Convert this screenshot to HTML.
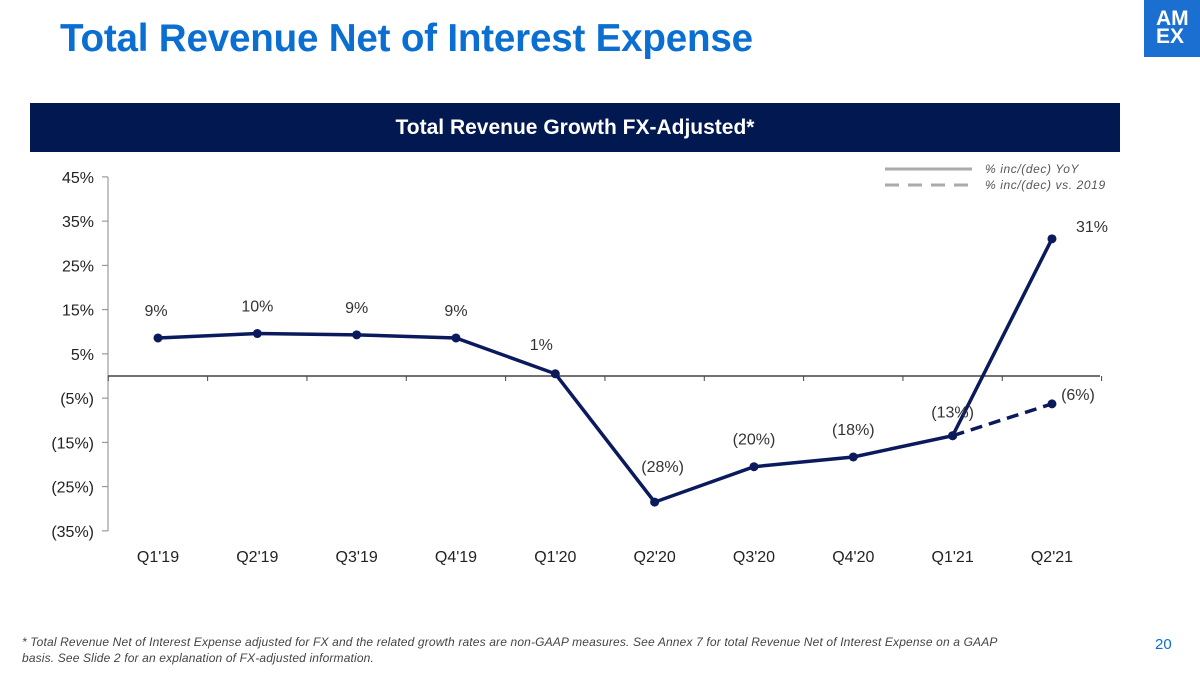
<!DOCTYPE html>
<html><head><meta charset="utf-8"><style>
body{margin:0;width:1200px;height:675px;overflow:hidden;background:#fff;font-family:"Liberation Sans",Arial,sans-serif;position:relative}
.t{position:absolute;left:60px;top:17px;font-size:38.6px;font-weight:bold;color:#0a6fd1;letter-spacing:-0.2px}
.ban{position:absolute;left:30px;top:103px;width:1090px;height:49px;background:#011850;color:#fff;font-size:21px;font-weight:bold;text-align:center;line-height:49px}
.logo{position:absolute;left:1144px;top:0;width:56px;height:57px;background:#1a6fd0;color:#fff;font-weight:900;font-size:21px;line-height:18px;padding:10px 0 0 12px;box-sizing:border-box}
.foot{position:absolute;left:22px;top:634px;width:1070px;font-size:12px;font-style:italic;color:#444;line-height:16px;letter-spacing:0.15px}
.pg{position:absolute;left:1155px;top:636px;color:#0a6fd1;font-size:15px}
</style></head><body>
<div class="t">Total Revenue Net of Interest Expense</div>
<div class="logo">AM<br>EX</div>
<div class="ban">Total Revenue Growth FX-Adjusted*</div>
<svg id="c" width="1200" height="675" style="position:absolute;left:0;top:0"></svg>
<div class="foot">* Total Revenue Net of Interest Expense adjusted for FX and the related growth rates are non-GAAP measures. See Annex 7 for total Revenue Net of Interest Expense on a GAAP<br>basis. See Slide 2 for an explanation of FX-adjusted information.</div>
<div class="pg">20</div>
<script>
const categories=["Q1'19","Q2'19","Q3'19","Q4'19","Q1'20","Q2'20","Q3'20","Q4'20","Q1'21","Q2'21"];
const yoy=[8.6,9.6,9.3,8.6,0.5,-28.5,-20.5,-18.3,-13.5,31];
const yoyLabels=["9%","10%","9%","9%","1%","(28%)","(20%)","(18%)","(13%)","31%"];
const vs2019Cats=["Q1'21","Q2'21"];
const vs2019=[-13.5,-6.3];
const vs2019Labels=["","(6%)"];
const yTicks=[45,35,25,15,5,-5,-15,-25,-35];
const NS="http://www.w3.org/2000/svg";
const svg=document.getElementById('c');
const y=v=>376-v*4.425;
const x=i=>158+i*99.33;
function mk(t,a,txt){const e=document.createElementNS(NS,t);for(const k in a)e.setAttribute(k,a[k]);if(txt!=null)e.textContent=txt;svg.appendChild(e);return e;}
let e=mk('line',{x1:108,x2:108,y1:177,y2:531,stroke:'#888'});

yTicks.forEach(v=>{mk('line',{x1:102,x2:108,y1:y(v),y2:y(v),stroke:'#888'});
const l=mk('text',{x:94,y:y(v)+6,'text-anchor':'end','font-size':16,fill:'#222'},v<0?'('+(-v)+'%)':v+'%');
});
e=mk('line',{x1:108,x2:1100,y1:y(0),y2:y(0),stroke:'#444','stroke-width':1.5});

for(let i=0;i<=categories.length;i++)mk('line',{x1:x(i)-49.7,x2:x(i)-49.7,y1:y(0),y2:y(0)+5,stroke:'#444'});
categories.forEach((c,i)=>{const l=mk('text',{x:x(i),y:562,'text-anchor':'middle','font-size':16,fill:'#222'},c);
});
const dp=vs2019Cats.map((c,j)=>x(categories.indexOf(c))+','+y(vs2019[j])).join(' ');
e=mk('polyline',{points:dp,fill:'none',stroke:'#0b1a5c','stroke-width':3.5,'stroke-dasharray':'12,7'});

e=mk('polyline',{points:yoy.map((v,i)=>x(i)+','+y(v)).join(' '),fill:'none',stroke:'#0b1a5c','stroke-width':3.5});

yoy.forEach((v,i)=>{const p=mk('circle',{cx:x(i),cy:y(v),r:4.5,fill:'#0b1a5c'});

let lx=x(i),ly=y(v)-22;
if(i==0)lx-=2;if(i==9){lx+=40;ly=y(v)-7;}if(i==8)ly=y(v)-18;if(i==4){lx-=14;ly=y(v)-24;}if(i==5){lx+=8;ly=y(v)-30;}
const l=mk('text',{x:lx,y:ly,'text-anchor':'middle','font-size':16,fill:'#333'},yoyLabels[i]);
});
vs2019.forEach((v,j)=>{const i=categories.indexOf(vs2019Cats[j]);
const p=mk('circle',{cx:x(i),cy:y(v),r:4.5,fill:'#0b1a5c'});

if(vs2019Labels[j]){const l=mk('text',{x:x(i)+26,y:y(v)-4,'text-anchor':'middle','font-size':16,fill:'#333'},vs2019Labels[j]);
}});
e=mk('line',{x1:885,x2:972,y1:169,y2:169,stroke:'#aaa','stroke-width':3});

e=mk('text',{x:985,y:173,'font-size':12,'font-style':'italic','letter-spacing':'0.6',fill:'#555'},'% inc/(dec) YoY');

e=mk('line',{x1:885,x2:972,y1:185,y2:185,stroke:'#aaa','stroke-width':3,'stroke-dasharray':'14,9'});

e=mk('text',{x:985,y:189,'font-size':12,'font-style':'italic','letter-spacing':'0.6',fill:'#555'},'% inc/(dec) vs. 2019');

</script>
</body></html>
